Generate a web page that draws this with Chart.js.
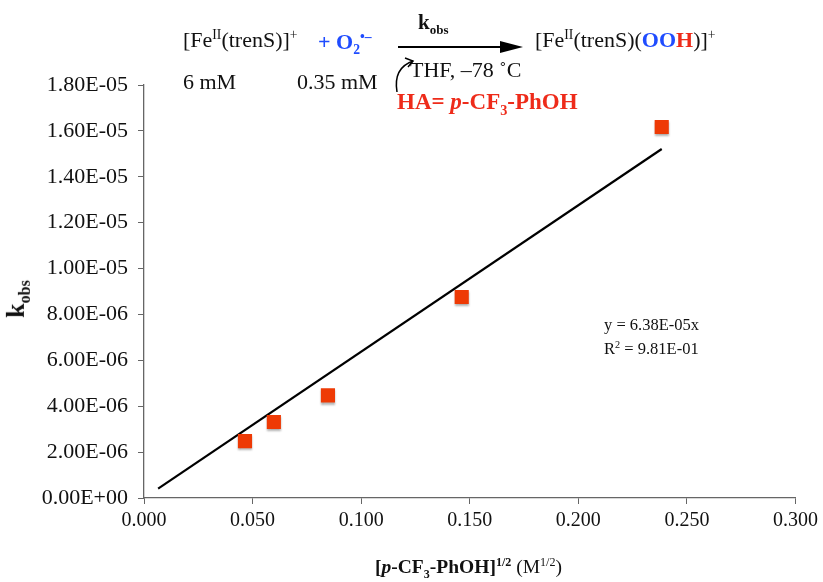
<!DOCTYPE html>
<html>
<head>
<meta charset="utf-8">
<script src="https://cdn.jsdelivr.net/npm/chart.js@4"></script>
<style>
  body { margin: 0; background: #fff; }
  #wrap { position: relative; width: 823px; height: 582px; font-family: "Liberation Serif", "DejaVu Serif", serif; }
  canvas { position: absolute; left: 0; top: 0; }
  .t { position: absolute; white-space: nowrap; line-height: 1; color: #111; }
  .t sup, .t sub { font-size: 0.62em; line-height: 0; }
  .blue { color: #1f4cff; font-weight: bold; }
  .red { color: #ee2b1a; font-weight: bold; }
  .b { font-weight: bold; }
</style>
</head>
<body>
<div id="wrap">
  <canvas id="grafico" width="823" height="582"></canvas>

  <!-- esquema de reaccion -->
  <div class="t" style="left:183px; top:29px; font-size:22px">[Fe<sup>II</sup>(trenS)]<sup>+</sup></div>
  <div class="t blue" style="left:318px; top:31px; font-size:22px">+ O<sub>2</sub><sup>•–</sup></div>
  <div class="t b" style="left:418px; top:12px; font-size:21px">k<sub>obs</sub></div>
  <div class="t" style="left:410px; top:59px; font-size:22px">THF, –78 ˚C</div>
  <div class="t" style="left:535px; top:29px; font-size:22px">[Fe<sup>II</sup>(trenS)(<span class="blue">OO</span><span class="red">H</span>)]<sup>+</sup></div>
  <div class="t" style="left:183px; top:71px; font-size:22px">6 mM</div>
  <div class="t" style="left:297px; top:71px; font-size:22px">0.35 mM</div>
  <div class="t red" style="left:397px; top:90px; font-size:23px">HA= <i>p</i>-CF<sub>3</sub>-PhOH</div>
  <svg style="position:absolute; left:0; top:0" width="823" height="130">
    <line x1="398" y1="47" x2="505" y2="47" stroke="#000" stroke-width="2"/>
    <polygon points="500,41 523,47 500,53" fill="#000"/>
    <path d="M397,92 Q393,68 413,61" fill="none" stroke="#000" stroke-width="1.5"/>
    <polyline points="405,58 413,61 408,67" fill="none" stroke="#000" stroke-width="1.5"/>
  </svg>

  <!-- titulos de ejes -->
  <div class="t b" style="left:-3px; top:286px; font-size:26px; transform:rotate(-90deg); transform-origin:center">k<sub>obs</sub></div>
  <div class="t b" style="left:375px; top:557px; font-size:19.5px"><span>[<i>p</i>-CF<sub>3</sub>-PhOH]<sup>1/2</sup></span> <span style="font-weight:normal">(M<sup>1/2</sup>)</span></div>

  <!-- ecuacion de ajuste -->
  <div class="t" style="left:604px; top:317px; font-size:16.5px">y = 6.38E-05x</div>
  <div class="t" style="left:604px; top:341px; font-size:16.5px">R<sup>2</sup> = 9.81E-01</div>
</div>

<script>
// datos
const concRaiz = [0.0465, 0.0598, 0.0847, 0.1463, 0.2384];
const kObs = [2.48e-6, 3.31e-6, 4.47e-6, 8.76e-6, 1.617e-5];

// recta de ajuste y = 6.38E-05x (extremos leidos)
const ajusteX = [0.0065, 0.2384];
const ajusteY = [4.1e-7, 1.521e-5];

const ticksX = [0, 0.05, 0.10, 0.15, 0.20, 0.25, 0.30];
const ticksY = [0, 2e-6, 4e-6, 6e-6, 8e-6, 1e-5, 1.2e-5, 1.4e-5, 1.6e-5, 1.8e-5];

function formatoExcel(v) {
    const partes = Number(v).toExponential(2).split('e');
    const exp = parseInt(partes[1], 10);
    const signo = exp < 0 ? '-' : '+';
    return partes[0] + 'E' + signo + String(Math.abs(exp)).padStart(2, '0');
}

// sombra gris debajo de los cuadrados
const sombra = {
    id: 'sombra',
    beforeDatasetDraw(chart, args) {
        if (args.index !== 0) return;
        const ctx = chart.ctx;
        ctx.save();
        ctx.shadowColor = 'rgba(0,0,0,0.3)';
        ctx.shadowOffsetY = 2;
        ctx.shadowBlur = 2;
    },
    afterDatasetDraw(chart, args) {
        if (args.index !== 0) return;
        chart.ctx.restore();
    }
};

const colorEje = '#666';

new Chart(document.getElementById('grafico'), {
    type: 'scatter',
    data: {
        datasets: [{
                label: 'kobs',
                data: concRaiz.map((x, i) => ({ x: x, y: kObs[i] })),
                pointStyle: 'rect',
                pointRadius: 10,
                pointHoverRadius: 10,
                backgroundColor: '#ee3a05',
                borderWidth: 0,
                order: 0
            }, {
                label: 'ajuste',
                type: 'line',
                data: ajusteX.map((x, i) => ({ x: x, y: ajusteY[i] })),
                borderColor: '#000',
                borderWidth: 2.2,
                pointRadius: 0,
                fill: false,
                order: 1
            }]
    },
    options: {
        responsive: false,
        animation: false,
        events: [],
        layout: {
            padding: { left: 0, right: 27, top: 85, bottom: 0 }
        },
        plugins: {
            legend: { display: false },
            tooltip: { enabled: false }
        },
        scales: {
            x: {
                type: 'linear',
                min: 0,
                max: 0.3,
                afterBuildTicks: s => { s.ticks = ticksX.map(v => ({ value: v })); },
                afterFit: s => { s.height = 84; },
                ticks: {
                    color: '#111',
                    font: { family: '"Liberation Serif", serif', size: 20 },
                    padding: 5,
                    maxRotation: 0,
                    callback: v => Number(v).toFixed(3)
                },
                grid: { drawOnChartArea: false, drawTicks: true, tickLength: 6, color: colorEje },
                border: { color: colorEje, width: 1.3 }
            },
            y: {
                type: 'linear',
                min: 0,
                max: 1.8e-5,
                afterBuildTicks: s => { s.ticks = ticksY.map(v => ({ value: v })); },
                afterFit: s => { s.width = 144; },
                ticks: {
                    color: '#111',
                    font: { family: '"Liberation Serif", serif', size: 22 },
                    padding: 10,
                    callback: v => formatoExcel(v)
                },
                grid: { drawOnChartArea: false, drawTicks: true, tickLength: 6, color: colorEje },
                border: { color: colorEje, width: 1.3 }
            }
        }
    },
    plugins: [sombra]
});
</script>
</body>
</html>
